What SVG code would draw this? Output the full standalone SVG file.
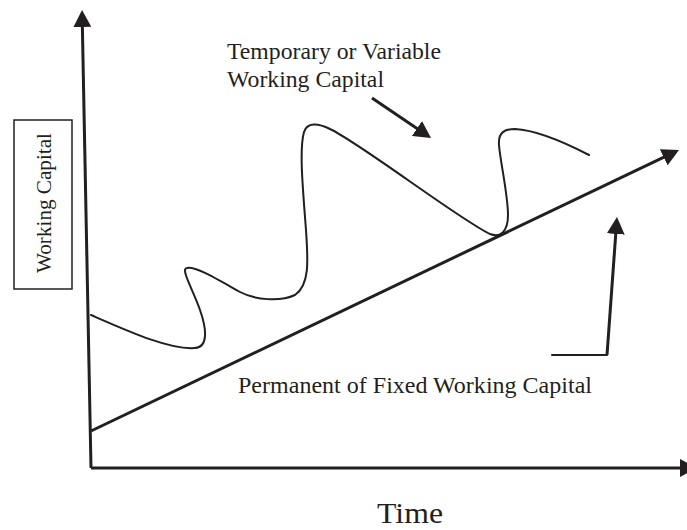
<svg xmlns="http://www.w3.org/2000/svg" width="687" height="530" viewBox="0 0 687 530">
  <style>
    .lbl { font-family: "Liberation Serif", "Times New Roman", serif; fill: #231f20; }
    .thick { fill: none; stroke: #231f20; stroke-width: 3; }
    .thin { fill: none; stroke: #231f20; stroke-width: 2; stroke-linecap: round; stroke-linejoin: round; }
  </style>
  <defs>
    <marker id="arrow" markerUnits="userSpaceOnUse" markerWidth="18" markerHeight="18" refX="9" refY="9" orient="auto">
      <path d="M0,0 L17,9 L0,18 z" fill="#231f20"/>
    </marker>
  </defs>
  <rect width="687" height="530" fill="#ffffff"/>

  <g id="connectors">
    <line id="y-axis" class="thick" x1="91" y1="468" x2="82.2" y2="18" marker-end="url(#arrow)"/>
    <line id="x-axis" class="thick" x1="91" y1="468" x2="689" y2="468" marker-end="url(#arrow)"/>
    <line id="permanent-line" class="thick" x1="91" y1="431" x2="671.8" y2="153.4" marker-end="url(#arrow)"/>
    <line id="temporary-pointer" class="thick" x1="372" y1="98" x2="424.4" y2="133.5" marker-end="url(#arrow)"/>
    <line id="permanent-pointer-h" class="thin" x1="552" y1="355" x2="607" y2="355"/>
    <line id="permanent-pointer-v" class="thick" x1="607" y1="355" x2="616.4" y2="225" marker-end="url(#arrow)"/>
    <path id="variable-curve" class="thin" d="M91,315 C130,332 170,350 195,348 C208,347 207,330 200,310 C193,290 180,268 187,268 C195,266 215,278 240,292 C255,300 280,302 295,295 C310,285 308,260 306,230 C303,190 299,150 304,132 C307,122 318,123 330,129 C360,143 460,220 490,234 C500,238 508,232 508,215 C508,195 500,160 499,145 C498,132 505,129 515,129 C535,130 560,140 589,155"/>
  </g>

  <g id="y-label">
    <rect x="14" y="120" width="58" height="169" fill="none" stroke="#231f20" stroke-width="1.5"/>
    <text class="lbl" transform="translate(51,273) rotate(-90)" font-size="22" textLength="140" lengthAdjust="spacingAndGlyphs">Working Capital</text>
  </g>

  <g id="temporary-label">
    <text class="lbl" x="227" y="59" font-size="23" textLength="214" lengthAdjust="spacingAndGlyphs">Temporary or Variable</text>
    <text class="lbl" x="227" y="87" font-size="23" textLength="157" lengthAdjust="spacingAndGlyphs">Working Capital</text>
  </g>

  <g id="permanent-label">
    <text class="lbl" x="238" y="393" font-size="24" textLength="354" lengthAdjust="spacingAndGlyphs">Permanent of Fixed Working Capital</text>
  </g>

  <g id="x-label">
    <text class="lbl" x="377" y="523" font-size="30" textLength="66" lengthAdjust="spacingAndGlyphs">Time</text>
  </g>
</svg>
